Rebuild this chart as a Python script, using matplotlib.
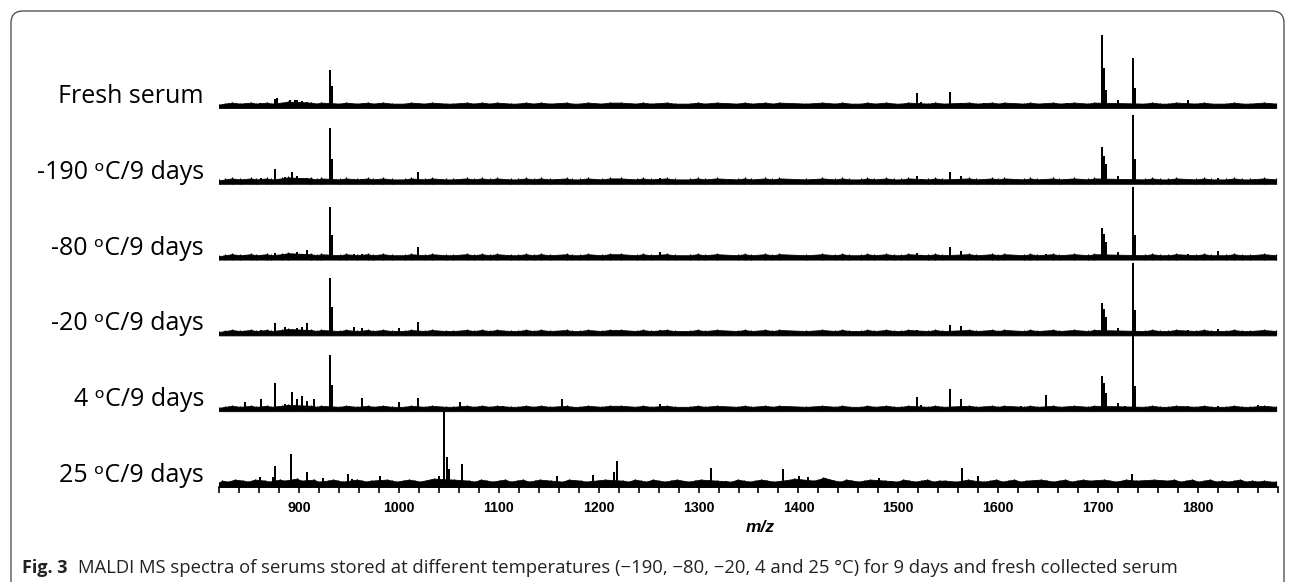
import matplotlib
matplotlib.use("Agg")
import matplotlib.pyplot as plt
from matplotlib.patches import FancyBboxPatch
from matplotlib.transforms import IdentityTransform, blended_transform_factory
from matplotlib.ticker import MultipleLocator

# ---------------- data (m/z, relative intensity) ----------------
labels = ["Fresh serum", "-190 ᵒC/9 days", "-80 ᵒC/9 days", "-20 ᵒC/9 days", "4 ᵒC/9 days", "25 ᵒC/9 days"]

mz_fresh = [836, 846, 861, 876, 878, 891, 896, 898, 903, 908, 931, 933, 955, 963, 1019,
            1261, 1332, 1392, 1401, 1417, 1519, 1523, 1552, 1563, 1586, 1613, 1619, 1645,
            1669, 1682, 1704, 1706, 1708, 1720, 1735, 1737, 1790, 1820]
int_fresh = [3, 4, 5, 9, 10, 8, 8, 8, 7, 6, 38, 22, 4, 3, 3,
             4, 3, 4, 3, 3, 15, 6, 16, 5, 5, 3, 3, 3,
             5, 3, 73, 40, 18, 8, 50, 20, 8, 4]

mz_m190 = [846, 862, 876, 886, 893, 898, 903, 908, 931, 933, 955, 963, 1000, 1019,
           1261, 1519, 1523, 1552, 1563, 1586, 1612, 1648, 1672, 1704, 1706, 1708,
           1720, 1735, 1737, 1790, 1820]
int_m190 = [4, 6, 15, 7, 12, 8, 6, 6, 56, 25, 5, 5, 3, 12,
            6, 8, 5, 12, 8, 3, 3, 4, 4, 37, 28, 20,
            8, 69, 25, 4, 6]

mz_m80 = [846, 876, 886, 898, 903, 908, 925, 931, 933, 955, 963, 976, 987, 1019,
          1039, 1160, 1261, 1519, 1523, 1552, 1563, 1612, 1648, 1672, 1704, 1706, 1708,
          1720, 1735, 1737, 1790, 1820]
int_m80 = [5, 7, 5, 8, 6, 10, 5, 53, 25, 6, 6, 3, 5, 13,
           4, 3, 8, 7, 5, 13, 9, 5, 6, 4, 32, 26, 18,
           8, 73, 25, 6, 9]

mz_m20 = [862, 876, 886, 898, 903, 908, 931, 933, 955, 963, 1000, 1019, 1039, 1104,
          1160, 1261, 1519, 1552, 1563, 1612, 1648, 1704, 1706, 1708, 1720, 1735, 1737,
          1790, 1820]
int_m20 = [5, 12, 8, 7, 8, 12, 57, 28, 8, 7, 7, 13, 4, 4,
           4, 5, 5, 10, 9, 4, 4, 32, 26, 18, 7, 72, 25,
           5, 6]

mz_4c = [846, 862, 876, 886, 893, 898, 903, 908, 915, 931, 933, 950, 963, 970, 980,
         1000, 1019, 1061, 1104, 1163, 1230, 1261, 1358, 1456, 1519, 1523, 1552, 1563,
         1623, 1648, 1686, 1696, 1704, 1706, 1708, 1720, 1727, 1735, 1737, 1790, 1820, 1860]
int_4c = [9, 12, 28, 7, 19, 12, 15, 10, 12, 56, 26, 5, 13, 5, 4,
          9, 13, 9, 5, 12, 4, 7, 3, 3, 14, 6, 22, 12,
          5, 16, 4, 5, 35, 28, 18, 8, 5, 76, 25, 5, 5, 6]

mz_25c = [861, 874, 876, 892, 908, 924, 949, 953, 981, 1030, 1040, 1045, 1048, 1050,
          1063, 1146, 1158, 1176, 1194, 1200, 1215, 1218, 1284, 1312, 1327, 1385, 1401,
          1410, 1430, 1481, 1493, 1553, 1564, 1580, 1637, 1700, 1723, 1734, 1744, 1750,
          1765]
int_25c = [10, 10, 21, 33, 15, 9, 13, 8, 11, 5, 11, 76, 30, 18,
           23, 6, 11, 6, 12, 6, 15, 26, 6, 19, 6, 18, 11,
           10, 5, 9, 6, 5, 19, 11, 4, 5, 5, 13, 5, 6,
           5]

# low-level baseline ripple (height above the baseline band)
grass_mz_a = [820, 826, 833, 841, 852, 857, 868, 872, 883, 889, 912, 918, 922, 941, 947, 958,
              969, 974, 984, 993, 1006, 1012, 1026, 1033, 1047, 1054, 1068, 1075, 1083,
              1091, 1098, 1112, 1119, 1127, 1135, 1142, 1151, 1168, 1173, 1181, 1189,
              1203, 1211, 1222, 1238, 1244, 1252, 1268, 1276, 1291, 1299, 1306, 1318,
              1339, 1346, 1353, 1367, 1374, 1381, 1408, 1424, 1437, 1444, 1451, 1463,
              1469, 1476, 1488, 1496, 1503, 1510, 1530, 1537, 1544, 1571, 1578, 1594,
              1600, 1606, 1626, 1632, 1639, 1655, 1661, 1676, 1690, 1696, 1747, 1754,
              1762, 1770, 1778, 1798, 1806, 1813, 1828, 1836, 1844, 1852, 1866, 1878]
grass_h_a = [0, 1, 2, 1, 2, 1, 2, 1, 2, 3, 2, 1, 2, 1, 2, 1,
             2, 1, 2, 1, 1, 2, 1, 2, 1, 1, 2, 1, 2,
             1, 2, 1, 1, 2, 1, 2, 1, 2, 1, 1, 2,
             1, 2, 2, 1, 2, 1, 2, 1, 1, 2, 1, 2,
             1, 2, 1, 2, 1, 2, 1, 2, 1, 2, 1, 1,
             2, 1, 2, 1, 1, 2, 1, 2, 1, 2, 1, 2,
             1, 2, 1, 2, 1, 2, 1, 2, 1, 2, 1, 2,
             1, 1, 2, 1, 2, 1, 1, 2, 1, 1, 2, 1]
grass_mz_b = [820, 823, 829, 836, 844, 849, 856, 866, 870, 881, 885, 898, 902, 915, 919, 929,
              934, 939, 944, 958, 963, 967, 972, 988, 993, 998, 1004, 1010, 1016, 1021,
              1035, 1055, 1070, 1076, 1082, 1088, 1094, 1100, 1106, 1112, 1118, 1124,
              1130, 1136, 1141, 1152, 1164, 1170, 1182, 1187, 1206, 1224, 1230, 1236,
              1242, 1248, 1254, 1260, 1266, 1272, 1278, 1290, 1296, 1302, 1318, 1333,
              1339, 1345, 1351, 1357, 1363, 1369, 1375, 1392, 1396, 1415, 1420, 1425,
              1436, 1442, 1448, 1454, 1460, 1466, 1472, 1487, 1499, 1505, 1511, 1517,
              1523, 1529, 1535, 1541, 1547, 1558, 1570, 1575, 1586, 1592, 1598, 1604,
              1610, 1616, 1622, 1628, 1643, 1649, 1655, 1661, 1667, 1673, 1679, 1685,
              1691, 1706, 1712, 1718, 1728, 1738, 1756, 1770, 1776, 1782, 1788, 1794,
              1800, 1806, 1812, 1818, 1824, 1830, 1836, 1842, 1848, 1854, 1860, 1866,
              1872, 1878]
grass_h_b = [1, 3, 2, 4, 3, 2, 4, 3, 2, 4, 3, 5, 3, 4, 2, 3,
             4, 3, 2, 4, 3, 2, 3, 4, 3, 2, 3, 4, 3, 2,
             5, 4, 3, 2, 4, 3, 2, 3, 4, 2, 3, 4,
             2, 3, 4, 3, 2, 4, 3, 2, 4, 3, 2, 4,
             3, 2, 4, 3, 2, 3, 4, 2, 3, 4, 3, 2,
             4, 3, 2, 3, 4, 3, 2, 4, 5, 3, 4, 6,
             3, 2, 4, 3, 2, 3, 4, 3, 2, 4, 3, 2,
             3, 4, 2, 3, 3, 2, 4, 3, 2, 3, 4, 2,
             3, 4, 2, 3, 4, 3, 2, 3, 4, 2, 3, 4,
             3, 4, 3, 2, 4, 3, 4, 3, 4, 2, 3, 4,
             2, 3, 4, 2, 3, 2, 3, 4, 2, 3, 2, 3,
             2, 2]

spectra_mz = [mz_fresh, mz_m190, mz_m80, mz_m20, mz_4c, mz_25c]
spectra_int = [int_fresh, int_m190, int_m80, int_m20, int_4c, int_25c]
grass_per_row = [(grass_mz_a, grass_h_a)] * 5 + [(grass_mz_b, grass_h_b)]

tick_values = [900, 1000, 1100, 1200, 1300, 1400, 1500, 1600, 1700, 1800]
xlabel = "m/z"
caption_bold = "Fig. 3"
caption_text = "MALDI MS spectra of serums stored at different temperatures (\u2212190, \u221280, \u221220, 4 and 25 \u00b0C) for 9 days and fresh collected serum"

# ---------------- layout ----------------
W, H = 1293, 582
fig = plt.figure(figsize=(W / 100, H / 100), dpi=100)
ax_left, ax_right, ax_bottom_px, ax_top_px = 219, 1278, 487, 30
ax = fig.add_axes([ax_left / W, (H - ax_bottom_px) / H,
                   (ax_right - ax_left) / W, (ax_bottom_px - ax_top_px) / H])
ax.set_xlim(820, 1880)
ax.set_ylim(0, ax_bottom_px - ax_top_px)

row_step = 75.8
band = 3.4
n = len(labels)
offsets = [(n - 1 - i) * row_step for i in range(n)]

px = 72 / 100  # points per pixel
for off, mzs, ints, (gmz, gh), lab in zip(offsets, spectra_mz, spectra_int, grass_per_row, labels):
    ax.fill_between(gmz, off, [off + band + v for v in gh], color="black", lw=0.8 * px, zorder=3)
    ax.vlines(gmz, off, [off + band + v + 1 for v in gh], color="black", lw=1.2 * px, zorder=3)
    ax.vlines(mzs, off, [off + v for v in ints], color="black", lw=2.0 * px,
              zorder=3, clip_on=False)
    ax.annotate(lab, xy=(0, off), xycoords=blended_transform_factory(ax.transAxes, ax.transData),
                xytext=(-15, 5), textcoords="offset pixels", ha="right", va="baseline",
                fontsize=18, family=["Open Sans", "DejaVu Sans"], color="black")

for s in ["top", "right", "left"]:
    ax.spines[s].set_visible(False)
ax.spines["bottom"].set_linewidth(1.2)
ax.set_yticks([])
ax.set_xticks(tick_values)
ax.xaxis.set_minor_locator(MultipleLocator(20))
ax.tick_params(axis="x", which="both", direction="out", length=4, width=1.2, pad=6)
for t in ax.get_xticklabels():
    t.set_fontfamily("Liberation Sans")
    t.set_fontweight("bold")
    t.set_fontsize(10.2)
ax.set_xlabel(xlabel, fontfamily="Liberation Sans", fontweight="bold", fontstyle="italic",
              fontsize=12.5)
ax.xaxis.set_label_coords((760 - ax_left) / (ax_right - ax_left), -(527 - ax_bottom_px) / (ax_bottom_px - ax_top_px))
ax.xaxis.label.set_va("center")
ax.patch.set_alpha(0)

# caption
t1 = fig.text(22 / W, 1 - 573 / H, caption_bold, fontsize=13, fontweight="bold",
              family="Open Sans", ha="left", va="baseline", color="#222222")
fig.canvas.draw()
bb = t1.get_window_extent()
fig.text((bb.x1 + 10) / W, 1 - 573 / H, caption_text, fontsize=13.3,
         family="Open Sans", ha="left", va="baseline", color="#222222")

# rounded border
border = FancyBboxPatch((11, -20), 1273, H - 11 + 20,
                        boxstyle="round,pad=0,rounding_size=12",
                        transform=IdentityTransform(), fill=False,
                        edgecolor="#555555", lw=1.0)
fig.add_artist(border)

fig.savefig("out.png", dpi=100)
